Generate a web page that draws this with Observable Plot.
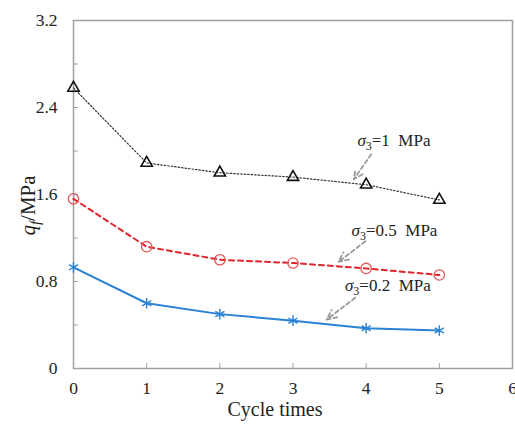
<!DOCTYPE html>
<html>
<head>
<meta charset="utf-8">
<script src="https://cdn.jsdelivr.net/npm/d3@7"></script>
<script src="https://cdn.jsdelivr.net/npm/@observablehq/plot@0.6"></script>
<style>
  html, body { margin: 0; padding: 0; background: #fff; }
  svg { display: block; }
  #chart svg, #chart svg text { font-family: 'Liberation Serif', 'Times New Roman', serif !important; }
</style>
</head>
<body>
<div id="chart"></div>
<script>
// Cycle times
const cycles = [0, 1, 2, 3, 4, 5];
// q_f (MPa) for each confining pressure
const q_s1 = [2.58, 1.89, 1.80, 1.76, 1.69, 1.55];   // σ3' = 1 MPa
const q_s05 = [1.56, 1.12, 1.00, 0.97, 0.92, 0.86];  // σ3' = 0.5 MPa
const q_s02 = [0.93, 0.60, 0.50, 0.44, 0.37, 0.35];  // σ3' = 0.2 MPa

const xTicks = [0, 1, 2, 3, 4, 5, 6];
const yMajor = [0, 0.8, 1.6, 2.4, 3.2];
const yMinor = [0, 0.4, 0.8, 1.2, 1.6, 2.0, 2.4, 2.8, 3.2];

// annotation labels (data units) and their arrows
const annLabels = ["σ3'=1 MPa", "σ3'=0.5 MPa", "σ3'=0.2 MPa"];
const annX = [3.88, 3.80, 3.71];
const annY = [2.10, 1.27, 0.76];
const arrX1 = [4.07, 3.99, 3.85];
const arrY1 = [1.97, 1.17, 0.65];
const arrX2 = [3.83, 3.62, 3.46];
const arrY2 = [1.74, 0.98, 0.45];

const series = [
  {name: "1", values: q_s1},
  {name: "0.5", values: q_s05},
  {name: "0.2", values: q_s02}
];
const rows = series.flatMap(s => s.values.map((v, i) => ({series: s.name, cycle: cycles[i], q: v})));
const pick = n => rows.filter(d => d.series === n);
const ann = annLabels.map((t, i) => ({t, x: annX[i], y: annY[i], x1: arrX1[i], y1: arrY1[i], x2: arrX2[i], y2: arrY2[i]}));

const font = "Liberation Serif";
const axisGray = "#a0a0a0";

const chart = Plot.plot({
  width: 515,
  height: 425,
  marginLeft: 73,
  marginTop: 20,
  marginRight: 3,
  marginBottom: 57,
  style: {fontFamily: font, color: "#222", background: "#fff"},
  x: {domain: [0, 6]},
  y: {domain: [0, 3.2]},
  marks: [
    Plot.axisX({ticks: xTicks, tickSize: -5, stroke: axisGray, tickFormat: () => "", label: null}),
    Plot.axisX({ticks: xTicks, tickSize: 0, tickPadding: 13, fontSize: 17.5, label: null, tickFormat: d => String(d), fontFamily: font}),
    Plot.axisY({ticks: yMinor, tickSize: -5, stroke: axisGray, tickFormat: () => "", label: null}),
    Plot.axisY({ticks: yMajor, tickSize: 0, tickPadding: 16, fontSize: 17.5, label: null, fontFamily: font,
      tickFormat: d => d === 0 ? "0" : d.toFixed(1)}),
    Plot.frame({stroke: axisGray, strokeWidth: 1.5}),
    // σ3' = 1 MPa : black dotted, triangles
    Plot.line(pick("1"), {x: "cycle", y: "q", stroke: "#333", strokeWidth: 1.2, strokeDasharray: "1.5,2"}),
    Plot.dot(pick("1"), {x: "cycle", y: "q", symbol: "triangle", r: 4.2, stroke: "#111", strokeWidth: 1.6, fill: "none"}),
    // σ3' = 0.5 MPa : red dashed, circles
    Plot.line(pick("0.5"), {x: "cycle", y: "q", stroke: "#e0262d", strokeWidth: 2, strokeDasharray: "5,4"}),
    Plot.dot(pick("0.5"), {x: "cycle", y: "q", symbol: "circle", r: 5.2, stroke: "#e05858", strokeWidth: 1.3, fill: "none"}),
    // σ3' = 0.2 MPa : blue solid, asterisks
    Plot.line(pick("0.2"), {x: "cycle", y: "q", stroke: "#2a82d4", strokeWidth: 2}),
    Plot.dot(pick("0.2"), {x: "cycle", y: "q", symbol: "asterisk", r: 5, stroke: "#2a82d4", strokeWidth: 1.4}),
    // annotations
    Plot.arrow(ann, {x1: "x1", y1: "y1", x2: "x2", y2: "y2", stroke: "#999", strokeWidth: 1.8,
      strokeDasharray: "4,3", headLength: 9, headAngle: 50}),
    Plot.text(ann, {x: "x", y: "y", text: "t", textAnchor: "start", fontSize: 17, fill: "#222", fontFamily: font}),
    // axis titles
    Plot.text(["Cycle times"], {frameAnchor: "bottom", lineAnchor: "middle", textAnchor: "middle", dy: 41, dx: -18, fontSize: 20, fill: "#222", fontFamily: font}),
    Plot.text(["qf/MPa"], {frameAnchor: "left", textAnchor: "middle", lineAnchor: "middle", dx: -45, dy: 11, rotate: -90, fontSize: 21, fill: "#222", fontFamily: font})
  ]
});

// rich text: italic σ with subscript 3, italic q with subscript f
d3.select(chart).selectAll("text").each(function () {
  const el = this;
  const s = el.textContent;
  if (s.startsWith("σ3'")) {
    const rest = s.slice(3).replace(" MPa", "\u00a0 MPa");
    el.textContent = "";
    const t = d3.select(el);
    t.append("tspan").attr("font-style", "italic").text("σ");
    t.append("tspan").attr("dy", 4).attr("font-size", 12).text("3");
    t.append("tspan").attr("dy", -4).text(rest);
  } else if (s === "qf/MPa") {
    el.textContent = "";
    const t = d3.select(el);
    t.append("tspan").attr("font-style", "italic").text("q");
    t.append("tspan").attr("font-style", "italic").attr("dy", 5).attr("font-size", 15).text("f");
    t.append("tspan").attr("dy", -5).text("/MPa");
  }
});

document.getElementById("chart").appendChild(chart);
</script>
</body>
</html>
